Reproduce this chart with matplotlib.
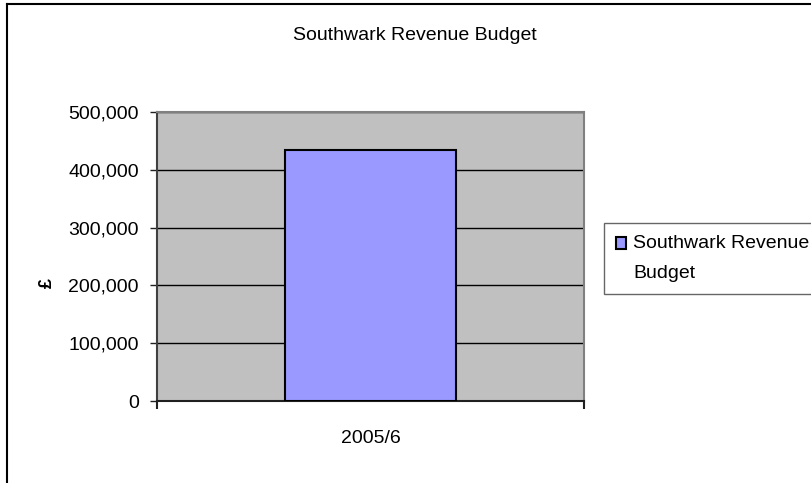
import matplotlib
matplotlib.use("Agg")
import matplotlib.pyplot as plt
from matplotlib.lines import Line2D
from matplotlib.patches import Rectangle
from matplotlib.legend_handler import HandlerPatch, update_from_first_child
from matplotlib.ticker import FuncFormatter

categories = ["2005/6"]
values = [435000]
series_name = "Southwark Revenue\nBudget"
title = "Southwark Revenue Budget"
y_ticks = [0, 100000, 200000, 300000, 400000, 500000]

plt.rcParams['font.family'] = ['Liberation Sans', 'DejaVu Sans']

W, H = 812, 483
fig = plt.figure(figsize=(W / 100, H / 100), dpi=100)
fig.patch.set_facecolor("white")

# axes placement (pixels -> fraction)
left, right, top, bottom = 157, 584, 112, 401
ax = fig.add_axes([left / W, 1 - bottom / H, (right - left) / W, (bottom - top) / H])
ax.set_facecolor("#C0C0C0")

x = list(range(len(categories)))
bars = ax.bar(x, values, width=0.4, color="#9999FF", edgecolor="black",
              linewidth=1.5, label=series_name, zorder=3)

ax.set_xlim(-0.5, len(categories) - 0.5)
ax.set_ylim(0, 500000)
ax.set_yticks(y_ticks)
ax.yaxis.set_major_formatter(FuncFormatter(lambda v, p: f"{int(v):,}"))
ax.yaxis.grid(True, color="black", linewidth=1.0, zorder=1)
ax.set_axisbelow(True)

# x ticks at category boundaries, labels at centers
ax.set_xticks([i - 0.5 for i in range(len(categories) + 1)])
ax.set_xticklabels([""] * (len(categories) + 1))
ax.set_xticks(x, minor=True)
ax.set_xticklabels(categories, minor=True)
ax.tick_params(axis="x", which="minor", length=0, pad=21, labelsize=14)
ax.tick_params(axis="x", which="major", length=6, width=1.5, color="#202020")
ax.tick_params(axis="y", length=5, width=1.0, color="#202020", pad=8, labelsize=14)

for s in ["top", "right"]:
    ax.spines[s].set_color("#808080")
    ax.spines[s].set_linewidth(1.5)
ax.spines["left"].set_color("#404040")
ax.spines["left"].set_linewidth(1.5)
ax.spines["bottom"].set_color("#202020")
ax.spines["bottom"].set_linewidth(1.5)

ax.set_ylabel("£", fontsize=13, fontweight="bold")
ax.yaxis.set_label_coords((56 - left) / (right - left), 0.41)

fig.text(415 / W, 1 - 36 / H, title, ha="center", va="center", fontsize=14)


def top_square(legend, orig_handle, xdescent, ydescent, width, height, fontsize):
    # square aligned with the first text line
    return Rectangle((-xdescent, -ydescent + 11), width, height)


leg = fig.legend(handles=[bars], labels=[series_name], loc="upper left",
                 bbox_to_anchor=(604 / W, 1 - 223 / H), fontsize=14,
                 frameon=True, fancybox=False, edgecolor="#404040",
                 handlelength=0.55, handleheight=0.55, handletextpad=0.35,
                 borderpad=0.6, borderaxespad=0, labelspacing=0.3,
                 handler_map={type(bars): HandlerPatch(patch_func=top_square,
                                                       update_func=update_from_first_child)})
leg.get_frame().set_linewidth(1.0)
for t in leg.get_texts():
    t.set_linespacing(2.05)

# outer chart border (left and top)
fig.add_artist(Line2D([7 / W, 7 / W], [0, 1 - 4 / H], color="black", linewidth=1.5,
                      transform=fig.transFigure))
fig.add_artist(Line2D([7 / W, 1], [1 - 4 / H, 1 - 4 / H], color="black", linewidth=1.5,
                      transform=fig.transFigure))

fig.savefig("out.png", dpi=100)
